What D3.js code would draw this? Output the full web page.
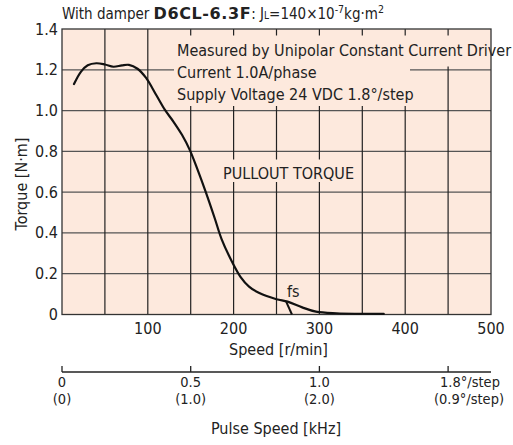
<!DOCTYPE html>
<html>
<head>
<meta charset="utf-8">
<script src="https://cdn.jsdelivr.net/npm/d3@7"></script>
<style>
  html, body { margin: 0; padding: 0; background: #fff; }
  svg text { font-family: "Liberation Sans Narrow", "Arial Narrow", "DejaVu Sans Condensed", sans-serif; fill: #222; }
</style>
</head>
<body>
<svg id="chart" width="513" height="445"></svg>
<script>
// Pull-out torque curve (speed in r/min, torque in N·m)
const speedRpm = [14, 22, 30, 40, 50, 60, 70, 78, 88, 98, 110, 120, 130, 140, 149, 158, 168, 178, 186, 198, 208, 218, 230, 250, 263, 280, 296, 320, 375];
const torqueNm = [1.13, 1.19, 1.222, 1.232, 1.226, 1.215, 1.222, 1.224, 1.205, 1.16, 1.075, 1.003, 0.945, 0.88, 0.806, 0.71, 0.595, 0.472, 0.37, 0.26, 0.185, 0.137, 0.105, 0.075, 0.063, 0.035, 0.014, 0.006, 0.003];

// Starting frequency (fs) branch
const fsSpeed = [261, 268];
const fsTorque = [0.066, 0];

// Axes
const speedTicks = [100, 200, 300, 400, 500];
const speedGrid = [50, 100, 150, 200, 250, 300, 350, 400, 450];
const torqueTicks = [0, 0.2, 0.4, 0.6, 0.8, 1.0, 1.2, 1.4];
const torqueTickLabels = ["0", "0.2", "0.4", "0.6", "0.8", "1.0", "1.2", "1.4"];
const pulseTicks = [0, 0.5, 1.0, 1.5];
const pulseLabelsTop = ["0", "0.5", "1.0", "1.8°/step"];
const pulseLabelsBottom = ["(0)", "(1.0)", "(2.0)", "(0.9°/step)"];

const notes = ["Measured by Unipolar Constant Current Driver", "Current 1.0A/phase", "Supply Voltage 24 VDC 1.8°/step"];

const svg = d3.select("#chart");
const bg = "#fde9dd";

const x = d3.scaleLinear().domain([0, 500]).range([62, 491]);
const y = d3.scaleLinear().domain([0, 1.4]).range([314.5, 29]);
// 1.8°/step: 1 kHz = 300 r/min
const xPulse = d3.scaleLinear().domain([0, 500 / 300]).range([62, 491]);

// plot background
svg.append("rect")
  .attr("x", x(0)).attr("y", y(1.4))
  .attr("width", x(500) - x(0)).attr("height", y(0) - y(1.4))
  .attr("fill", bg);

// grid
svg.append("g").selectAll("line").data(torqueTicks.slice(1, -1)).join("line")
  .attr("x1", x(0)).attr("x2", x(500))
  .attr("y1", d => y(d)).attr("y2", d => y(d))
  .attr("stroke", "#555").attr("stroke-width", 1.2);
svg.append("g").selectAll("line").data(speedGrid).join("line")
  .attr("x1", d => x(d)).attr("x2", d => x(d))
  .attr("y1", y(0)).attr("y2", y(1.4))
  .attr("stroke", "#222").attr("stroke-width", 1.2);

// note box covering the grid
svg.append("rect").attr("x", 174).attr("y", 35.5).attr("width", 236).attr("height", 70.5).attr("fill", bg);
svg.append("rect").attr("x", 409).attr("y", 35.5).attr("width", 81).attr("height", 31).attr("fill", bg);
svg.append("g").selectAll("text").data(notes).join("text")
  .attr("x", 177).attr("y", (d, i) => 56 + i * 22)
  .attr("font-size", 16).text(d => d);

// curve label
svg.append("rect").attr("x", 221).attr("y", 159.5).attr("width", 138).attr("height", 22.5).attr("fill", bg);
svg.append("text").attr("x", 223).attr("y", 179).attr("font-size", 16).text("PULLOUT TORQUE");

// frame
svg.append("rect")
  .attr("x", x(0)).attr("y", y(1.4))
  .attr("width", x(500) - x(0)).attr("height", y(0) - y(1.4))
  .attr("fill", "none").attr("stroke", "#333").attr("stroke-width", 1.3);

// curves
const line = d3.line().x(d => x(d[0])).y(d => y(d[1])).curve(d3.curveCatmullRom.alpha(0.5));
svg.append("path")
  .datum(d3.zip(speedRpm, torqueNm))
  .attr("d", line)
  .attr("fill", "none").attr("stroke", "#111").attr("stroke-width", 2.2).attr("stroke-linecap", "round");
svg.append("path")
  .datum(d3.zip(fsSpeed, fsTorque))
  .attr("d", d3.line().x(d => x(d[0])).y(d => y(d[1])))
  .attr("fill", "none").attr("stroke", "#111").attr("stroke-width", 2);
svg.append("text").attr("x", 287).attr("y", 297).attr("font-size", 16).text("fs");

// y tick labels
svg.append("g").selectAll("text").data(torqueTicks).join("text")
  .attr("x", 58).attr("y", d => y(d) + 5.5)
  .attr("text-anchor", "end").attr("font-size", 16)
  .text((d, i) => torqueTickLabels[i]);

// x tick labels
svg.append("g").selectAll("text").data(speedTicks).join("text")
  .attr("x", d => x(d)).attr("y", 333.5)
  .attr("text-anchor", "middle").attr("font-size", 16)
  .text(d => d);

svg.append("text").attr("x", 278.5).attr("y", 354.5).attr("text-anchor", "middle").attr("font-size", 16).text("Speed [r/min]");
svg.append("text").attr("transform", "translate(27,184) rotate(-90)").attr("text-anchor", "middle").attr("font-size", 16).text("Torque [N·m]");

// pulse speed axis
const pulseAxis = svg.append("g").attr("transform", "translate(0,372)");
pulseAxis.append("line").attr("x1", 62).attr("x2", 491).attr("stroke", "#222").attr("stroke-width", 1.3);
pulseAxis.selectAll(".tk").data(pulseTicks).join("line").attr("class", "tk")
  .attr("x1", d => xPulse(d)).attr("x2", d => xPulse(d))
  .attr("y1", 0).attr("y2", -6).attr("stroke", "#222").attr("stroke-width", 1.3);
pulseAxis.selectAll(".t1").data(pulseTicks).join("text").attr("class", "t1")
  .attr("x", (d, i) => i === 3 ? 470 : xPulse(d)).attr("y", 15)
  .attr("text-anchor", "middle").attr("font-size", 14.5)
  .text((d, i) => pulseLabelsTop[i]);
pulseAxis.selectAll(".t2").data(pulseTicks).join("text").attr("class", "t2")
  .attr("x", (d, i) => i === 3 ? 469 : xPulse(d)).attr("y", 32)
  .attr("text-anchor", "middle").attr("font-size", 14.5)
  .text((d, i) => pulseLabelsBottom[i]);
svg.append("text").attr("x", 276).attr("y", 434).attr("text-anchor", "middle").attr("font-size", 16).text("Pulse Speed [kHz]");

// title
const title = svg.append("text").attr("x", 62).attr("y", 19).attr("font-size", 15);
title.append("tspan").text("With damper ");
title.append("tspan")
  .attr("font-family", "'DejaVu Sans', sans-serif").attr("font-weight", "bold")
  .attr("font-size", 16).attr("letter-spacing", 0.6).text("D6CL-6.3F");
title.append("tspan").text(": J");
title.append("tspan").attr("font-size", 10).text("L");
title.append("tspan").text("=140×10");
title.append("tspan").attr("font-size", 10.5).attr("dy", -6).text("-7");
title.append("tspan").attr("dy", 6).text("kg·m");
title.append("tspan").attr("font-size", 10.5).attr("dy", -6).text("2");
</script>
</body>
</html>
